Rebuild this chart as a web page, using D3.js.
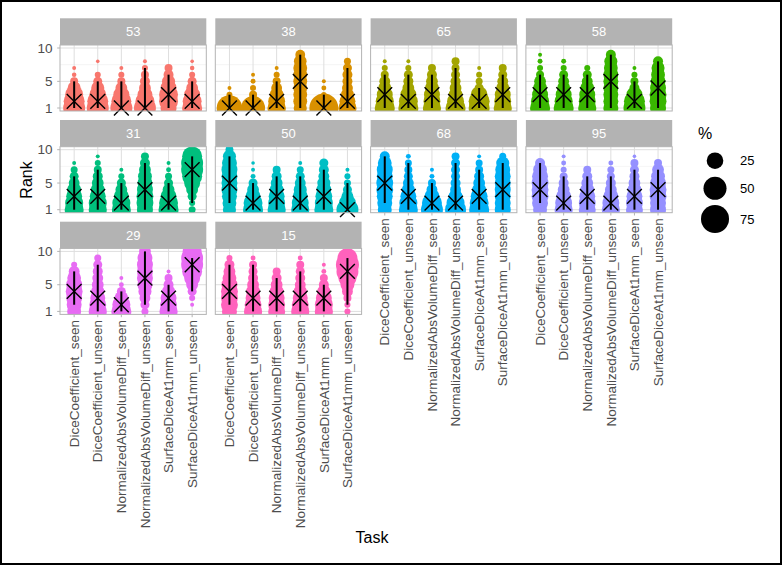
<!DOCTYPE html>
<html><head><meta charset="utf-8">
<script src="https://cdn.jsdelivr.net/npm/d3@7"></script>
<style>
body{margin:0;background:#fff}
svg{display:block}
text{font-family:"Liberation Sans",Arial,Helvetica,sans-serif}
</style>
</head><body>
<svg id="chart" width="782" height="565"></svg>
<script>
// ---------------- data ----------------
const algorithms = ["53","38","65","58","31","50","68","95","29","15"];
const tasks = ["DiceCoefficient_seen","DiceCoefficient_unseen","NormalizedAbsVolumeDiff_seen",
  "NormalizedAbsVolumeDiff_unseen","SurfaceDiceAt1mm_seen","SurfaceDiceAt1mm_unseen"];
const ranks = [1,2,3,4,5,6,7,8,9,10];
const yTicks = [1,5,10];
const yMinor = [3,7.5];
const legendBreaks = [25,50,75];
const colors = ["#F8766D","#D89000","#A3A500","#39B600","#00BF7D","#00BFC4","#00B0F6","#9590FF","#E76BF3","#FF62BC"];

// percentage of bootstrap samples at rank 1..10, one row per task
const pct53 = [
  [45,41,30,15,5,1.3,0.9,0,0,0],
  [45,41,26,15,6.6,2.6,0,0.7,0,0],
  [45,37,23,12,5,2.6,0.9,0,0,0],
  [45,33,20,12,8.3,5,2.6,0.9,0,0],
  [23,33,33,23,15,8.3,5,0,0,0],
  [37,33,23,12,6.6,2.6,1.3,0.7,0,0]];
const pct38 = [
  [62,10,2.5,0.9,0,0,0,0,0,0],
  [54,12,5,2.6,1.6,0.9,0,0,0,0],
  [31,26,17,10,5,2.6,0.9,0,0,0],
  [15,17,17,17,17,17,17,14,8,0],
  [80,8,2,1.6,0.9,0,0,0,0,0],
  [30,23,15,10,8.3,8.3,6.6,3.7,0,0]];
const pct65 = [
  [37,30,23,15,10,5,2.6,0.9,0,0],
  [37,33,23,12,8.3,6.6,2.6,0.9,0,0],
  [30,26,23,17,12,8.3,5,0,0,0],
  [37,26,17,12,8.3,6.6,5,5,0,0],
  [41,41,26,6.6,3.7,2.6,0.9,0,0,0],
  [30,26,23,15,10,6.6,5,0,0,0]];
const pct58 = [
  [37,30,23,17,12,5,2.6,1.6,0.9,0],
  [37,30,23,15,10,6.6,2.6,1.6,0,0],
  [30,26,23,17,10,6.6,2.6,0,0,0],
  [20,20,20,20,20,20,17,15,8.3,0],
  [45,41,23,8.3,5,2.6,0.9,0,0,0],
  [23,26,26,23,20,17,15,8.3,0,0]];
const pct31 = [
  [33,30,23,17,10,6.6,3.7,0.9,0,0],
  [30,30,23,17,12,8.3,5,2.6,0.9,0],
  [33,30,20,12,6.6,2.6,0.9,0,0,0],
  [23,26,26,23,20,17,12,8.3,5,0],
  [37,33,23,12,6.6,3.7,1.6,0.9,0,0],
  [3.7,2.6,6.6,12,23,37,45,45,37,0]];
const pct50 = [
  [15,17,20,23,23,23,23,20,15,5],
  [37,33,20,12,6.6,1.6,0.9,0.7,0,0],
  [30,26,23,17,12,8.3,5,0,0,0],
  [30,26,20,15,10,6.6,3.7,0.9,0,0],
  [33,30,26,20,15,10,8.3,6.6,0,0],
  [45,26,12,6.6,3.7,2.6,0.9,0,0,0]];
const pct68 = [
  [17,20,23,26,26,23,23,17,8.3,0],
  [33,30,23,15,10,6.6,5,3.7,1.6,0],
  [45,37,20,10,5,1.6,0.9,0,0,0],
  [41,30,17,10,8.3,6.6,6.6,6.6,5,0],
  [37,33,26,17,12,8.3,5,3.7,0.9,0],
  [23,23,23,23,23,23,20,15,3.7,0]];
const pct95 = [
  [17,23,26,26,26,23,17,8.3,0,0],
  [30,26,20,12,8.3,5,2.6,1.6,0.9,0],
  [26,26,23,17,12,8.3,5,0,0,0],
  [30,26,20,12,8.3,5,3.7,1.6,0,0],
  [26,26,23,17,12,8.3,6.6,5,0.7,0],
  [23,23,26,26,23,17,12,5,0,0]];
const pct29 = [
  [17,20,23,26,23,17,10,2.6,0,0],
  [30,26,20,15,12,10,8.3,6.6,3.7,0],
  [37,30,17,6.6,1.6,0.9,0,0,0,0],
  [3.7,6.6,10,15,20,23,23,23,20,12],
  [30,26,23,15,8.3,5,0.9,0,0,0],
  [0,0.9,2.6,6.6,12,23,37,45,45,33]];
const pct15 = [
  [20,26,26,26,23,17,12,8.3,2.6,0],
  [30,26,20,17,12,8.3,6.6,5,1.6,0],
  [26,26,23,17,12,8.3,5,0,0,0],
  [30,26,20,15,10,8.3,6.6,5,1.6,0],
  [30,30,23,15,8.3,5,1.6,0.9,0,0],
  [2.6,2.6,5,10,17,30,45,50,37,0]];
const pctByAlgorithm = [pct53,pct38,pct65,pct58,pct31,pct50,pct68,pct95,pct29,pct15];

// median rank and 2.5% / 97.5% quantiles per algorithm (rows) and task (columns)
const medianRank = [
  [2,2,1,1,3,2],[1,1,2,5,1,2],[3,2,3,2,2,3],[3,3,3,5,2,4],[3,3,2,4,2,7],
  [5,2,3,2,3,1],[5,3,2,2,3,4],[4,2,3,2,3,4],[4,3,2,6,3,8],[4,3,3,3,3,7]];
const lowerRank = [
  [1,1,1,1,1,1],[1,1,1,1,1,1],[1,1,1,1,1,1],[1,1,1,1,1,1],[1,1,1,1,1,2],
  [2,1,1,1,1,1],[2,1,1,1,1,1],[2,1,1,1,1,1],[2,1,1,2,1,4],[2,1,1,1,1,2]];
const upperRank = [
  [5,5,5,7,6,5],[3,3,5,9,3,7],[6,6,6,7,4,6],[6,6,6,9,5,8],[6,7,5,8,5,9],
  [9,5,6,6,7,5],[9,8,5,8,7,8],[8,6,6,6,7,7],[7,8,4,10,5,9],[8,8,6,7,5,9]];

// ---------------- layout ----------------
const svg = d3.select("#chart");
const panelX0 = [60, 215.3, 370.6, 525.9];
const panelW = 146.3;
const stripTop = [18.3, 120, 221.7];
const stripH = 26.7;
const panelH = 66;
const nCol = 4;
const textCol = "#4d4d4d";

svg.append("rect").attr("x",1).attr("y",1).attr("width",780).attr("height",563)
  .attr("fill","#fff").attr("stroke","#000").attr("stroke-width",2);

const x = d3.scalePoint().domain(tasks).range([0, panelW]).padding(0.6);
const y = d3.scaleLinear().domain([0.55, 10.45]).range([panelH, 0]);
const rScale = d3.scaleSqrt().domain([0, 100]).range([0.5, 16.1]);

const defs = svg.append("defs");
defs.append("clipPath").attr("id","panelClip")
  .append("rect").attr("x",0).attr("y",0).attr("width",panelW).attr("height",panelH);

algorithms.forEach((alg, ai) => {
  const row = Math.floor(ai / nCol), col = ai % nCol;
  const px = panelX0[col], py = stripTop[row] + stripH;
  const g = svg.append("g").attr("transform", `translate(${px},${py})`);

  // background + grid
  g.append("rect").attr("width",panelW).attr("height",panelH).attr("fill","#fff");
  g.selectAll(".ymin").data(yMinor).join("line")
    .attr("x1",0).attr("x2",panelW).attr("y1",d=>y(d)).attr("y2",d=>y(d))
    .attr("stroke","#ebebeb").attr("stroke-width",0.5);
  g.selectAll(".ymaj").data(yTicks).join("line")
    .attr("x1",0).attr("x2",panelW).attr("y1",d=>y(d)).attr("y2",d=>y(d))
    .attr("stroke","#dedede").attr("stroke-width",1);
  g.selectAll(".xmaj").data(tasks).join("line")
    .attr("x1",d=>x(d)).attr("x2",d=>x(d)).attr("y1",0).attr("y2",panelH)
    .attr("stroke","#dedede").attr("stroke-width",1);

  // blobs
  const pts = [];
  pctByAlgorithm[ai].forEach((arr, ti) => arr.forEach((p, ri) => {
    if (p > 0) pts.push({task: tasks[ti], rank: ranks[ri], p});
  }));
  g.append("g").attr("clip-path","url(#panelClip)")
    .selectAll("circle").data(pts).join("circle")
    .attr("cx", d => x(d.task)).attr("cy", d => y(d.rank)).attr("r", d => rScale(d.p))
    .attr("fill", colors[ai]);

  // quantile lines + median crosses
  const cs = 7.4;
  tasks.forEach((t, ti) => {
    const cx = x(t);
    g.append("line").attr("x1",cx).attr("x2",cx)
      .attr("y1", y(lowerRank[ai][ti])).attr("y2", y(upperRank[ai][ti]))
      .attr("stroke","#000").attr("stroke-width",2);
    const my = y(medianRank[ai][ti]);
    g.append("path").attr("d", `M${cx-cs},${my-cs}L${cx+cs},${my+cs}M${cx-cs},${my+cs}L${cx+cs},${my-cs}`)
      .attr("stroke","#000").attr("stroke-width",1.4).attr("fill","none");
  });

  // border
  g.append("rect").attr("width",panelW).attr("height",panelH)
    .attr("fill","none").attr("stroke","#b3b3b3").attr("stroke-width",1);

  // strip
  const s = svg.append("g").attr("transform", `translate(${px},${stripTop[row]})`);
  s.append("rect").attr("width",panelW).attr("height",stripH).attr("fill","#b3b3b3");
  s.append("text").attr("x",panelW/2).attr("y",stripH/2).attr("dy","0.35em")
    .attr("text-anchor","middle").attr("fill","#fff").attr("font-size",13).text(alg);

  // y axis on first column
  if (col === 0) {
    g.selectAll(".yt").data(yTicks).join("line")
      .attr("x1",-2.8).attr("x2",0).attr("y1",d=>y(d)).attr("y2",d=>y(d))
      .attr("stroke","#b3b3b3").attr("stroke-width",1);
    g.selectAll(".ytl").data(yTicks).join("text")
      .attr("x",-7.5).attr("y",d=>y(d)).attr("dy","0.35em").attr("text-anchor","end")
      .attr("fill",textCol).attr("font-size",13.5).text(d=>d);
  }
  // x axis where no panel below
  const hasBelow = (ai + nCol) < algorithms.length;
  if (!hasBelow) {
    g.selectAll(".xt").data(tasks).join("line")
      .attr("x1",d=>x(d)).attr("x2",d=>x(d)).attr("y1",panelH).attr("y2",panelH+2.8)
      .attr("stroke","#b3b3b3").attr("stroke-width",1);
    g.selectAll(".xtl").data(tasks).join("text")
      .attr("transform", d => `translate(${x(d)},${panelH+5.5}) rotate(-90)`)
      .attr("dy","0.35em").attr("text-anchor","end")
      .attr("fill",textCol).attr("font-size",13.5).text(d=>d);
  }
});

// axis titles
svg.append("text").attr("transform","translate(26,180) rotate(-90)")
  .attr("text-anchor","middle").attr("dy","0.35em").attr("font-size",16).attr("fill","#000").text("Rank");
svg.append("text").attr("x",372).attr("y",537).attr("dy","0.35em")
  .attr("text-anchor","middle").attr("font-size",16).attr("fill","#000").text("Task");

// legend
const leg = svg.append("g");
leg.append("text").attr("x",698).attr("y",133).attr("dy","0.35em").attr("font-size",16).text("%");
const legY = [160.7, 188.3, 219];
leg.selectAll("circle").data(legendBreaks).join("circle")
  .attr("cx",715).attr("cy",(d,i)=>legY[i]).attr("r",d=>rScale(d)).attr("fill","#000");
leg.selectAll(".ll").data(legendBreaks).join("text")
  .attr("x",740).attr("y",(d,i)=>legY[i]).attr("dy","0.35em").attr("font-size",13).text(d=>d);
</script>
</body></html>
